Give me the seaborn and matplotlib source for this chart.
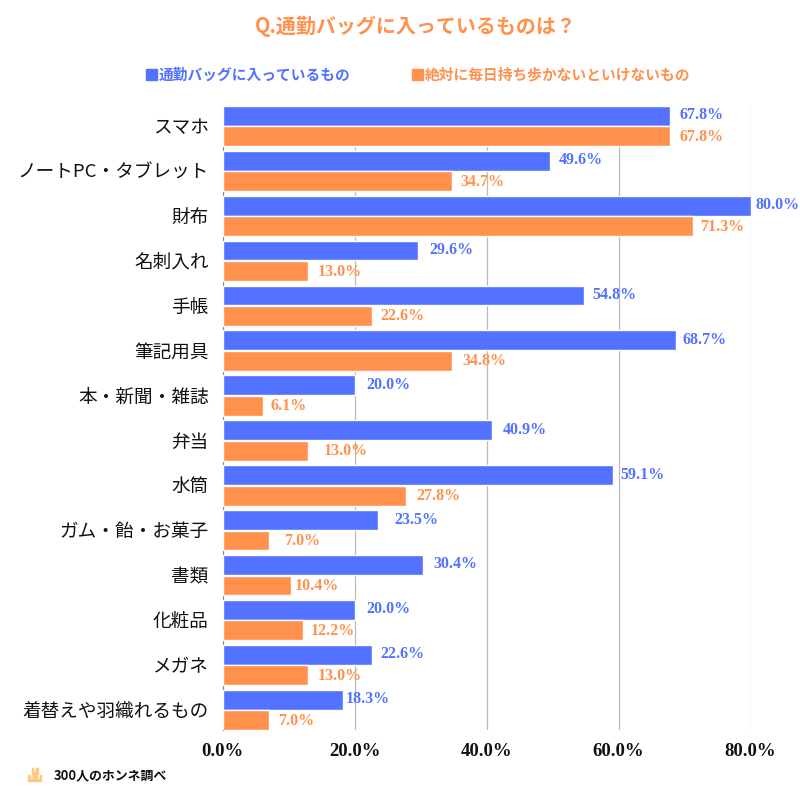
import matplotlib
matplotlib.use("Agg")
import matplotlib.pyplot as plt
from matplotlib.patches import Rectangle
import seaborn as sns
import pandas as pd

categories = ["スマホ", "ノートPC・タブレット", "財布", "名刺入れ", "手帳", "筆記用具", "本・新聞・雑誌",
              "弁当", "水筒", "ガム・飴・お菓子", "書類", "化粧品", "メガネ", "着替えや羽織れるもの"]
bag = [67.8, 49.6, 80.0, 29.6, 54.8, 68.7, 20.0, 40.9, 59.1, 23.5, 30.4, 20.0, 22.6, 18.3]
carry = [67.8, 34.7, 71.3, 13.0, 22.6, 34.8, 6.1, 13.0, 27.8, 7.0, 10.4, 12.2, 13.0, 7.0]
series_names = ["通勤バッグに入っているもの", "絶対に毎日持ち歩かないといけないもの"]
xticks = [0, 20, 40, 60, 80]
title = "Q.通勤バッグに入っているものは？"
source = "300人のホンネ調べ"

# the labels in the original are hand placed, gap from bar end in px
bag_gap = [10, 9, 5, 12, 8, 7, 12, 10, 8, 17, 10, 12, 9, 2]
carry_gap = [10, 9, 7, 9, 9, 10, 8, 15, 10, 15, 4, 8, 9, 9]

BLUE = "#5272ff"
ORANGE = "#ff914d"
NUM_FONT = ["Liberation Serif", "Noto Sans CJK JP"]

sns.set_theme(style="white")
plt.rcParams["font.family"] = ["Noto Sans CJK JP", "DejaVu Sans"]

df = pd.DataFrame({"item": categories, series_names[0]: bag, series_names[1]: carry})
long_df = df.melt(id_vars="item", var_name="series", value_name="pct")

fig = plt.figure(figsize=(8, 8), dpi=100)
ax = fig.add_axes([222.5 / 800, 1 - 730 / 800, (750.5 - 222.5) / 800, (730 - 106) / 800])
sns.barplot(long_df, y="item", x="pct", hue="series", palette=[BLUE, ORANGE], saturation=1,
            width=0.91, gap=0.03, dodge=True, legend=False, ax=ax, zorder=3)

ax.set_xlim(0, 80)
ax.set_ylim(13.445, -0.445)
ax.set_xticks(xticks)
ax.set_xticklabels([f"{t:.1f}%" for t in xticks], fontsize=13.5, fontweight="bold",
                   color="#111111", family=NUM_FONT)
ax.set_xlabel("")
ax.set_ylabel("")
ax.tick_params(axis="y", labelsize=13.4, length=0, pad=10, labelcolor="#111111")
ax.tick_params(axis="x", length=0, pad=9)
ax.xaxis.grid(True, color="#bbbbbb", lw=0.9, zorder=0)
ax.set_axisbelow(True)
for name, sp in ax.spines.items():
    sp.set_visible(name == "left")
ax.spines["left"].set_color("#888888")
ax.spines["left"].set_linewidth(0.8)

for i in range(len(categories)):
    ax.annotate(f"{bag[i]:.1f}%", (bag[i], i - 0.24), xytext=(bag_gap[i] * 0.72, 0),
                textcoords="offset points", va="center", fontsize=11.5, fontweight="bold",
                color=BLUE, family=NUM_FONT, annotation_clip=False, zorder=5)
    ax.annotate(f"{carry[i]:.1f}%", (carry[i], i + 0.24), xytext=(carry_gap[i] * 0.72, 0),
                textcoords="offset points", va="center", fontsize=11.5, fontweight="bold",
                color=ORANGE, family=NUM_FONT, annotation_clip=False, zorder=5)

fig.text(415.5 / 800, 1 - 26 / 800, title, ha="center", va="center", fontsize=14.4, fontweight="bold", color=ORANGE)

for px, name, col in [(146, series_names[0], BLUE), (412, series_names[1], ORANGE)]:
    fig.add_artist(Rectangle((px / 800, 1 - 80 / 800), 11 / 800, 11 / 800, color=col, transform=fig.transFigure))
    fig.text((px + 13) / 800, 1 - 75 / 800, name, va="center", fontsize=10.6, fontweight="bold", color=col)

# little stacked-tile logo next to the source line
for tx, ty in [(31.5, 768), (28, 774.5), (35, 774.5)]:
    fig.add_artist(Rectangle((tx / 800, 1 - (ty + 6) / 800), 6 / 800, 6 / 800, color="#fbc97c",
                             transform=fig.transFigure))
    fig.text((tx + 3) / 800, 1 - (ty + 3) / 800, "3", ha="center", va="center", fontsize=4,
             fontweight="bold", color="white")
fig.text(54 / 800, 1 - 775 / 800, source, va="center", fontsize=9.3, fontweight="bold", color="#111111")

plt.savefig("out.png", dpi=100)
